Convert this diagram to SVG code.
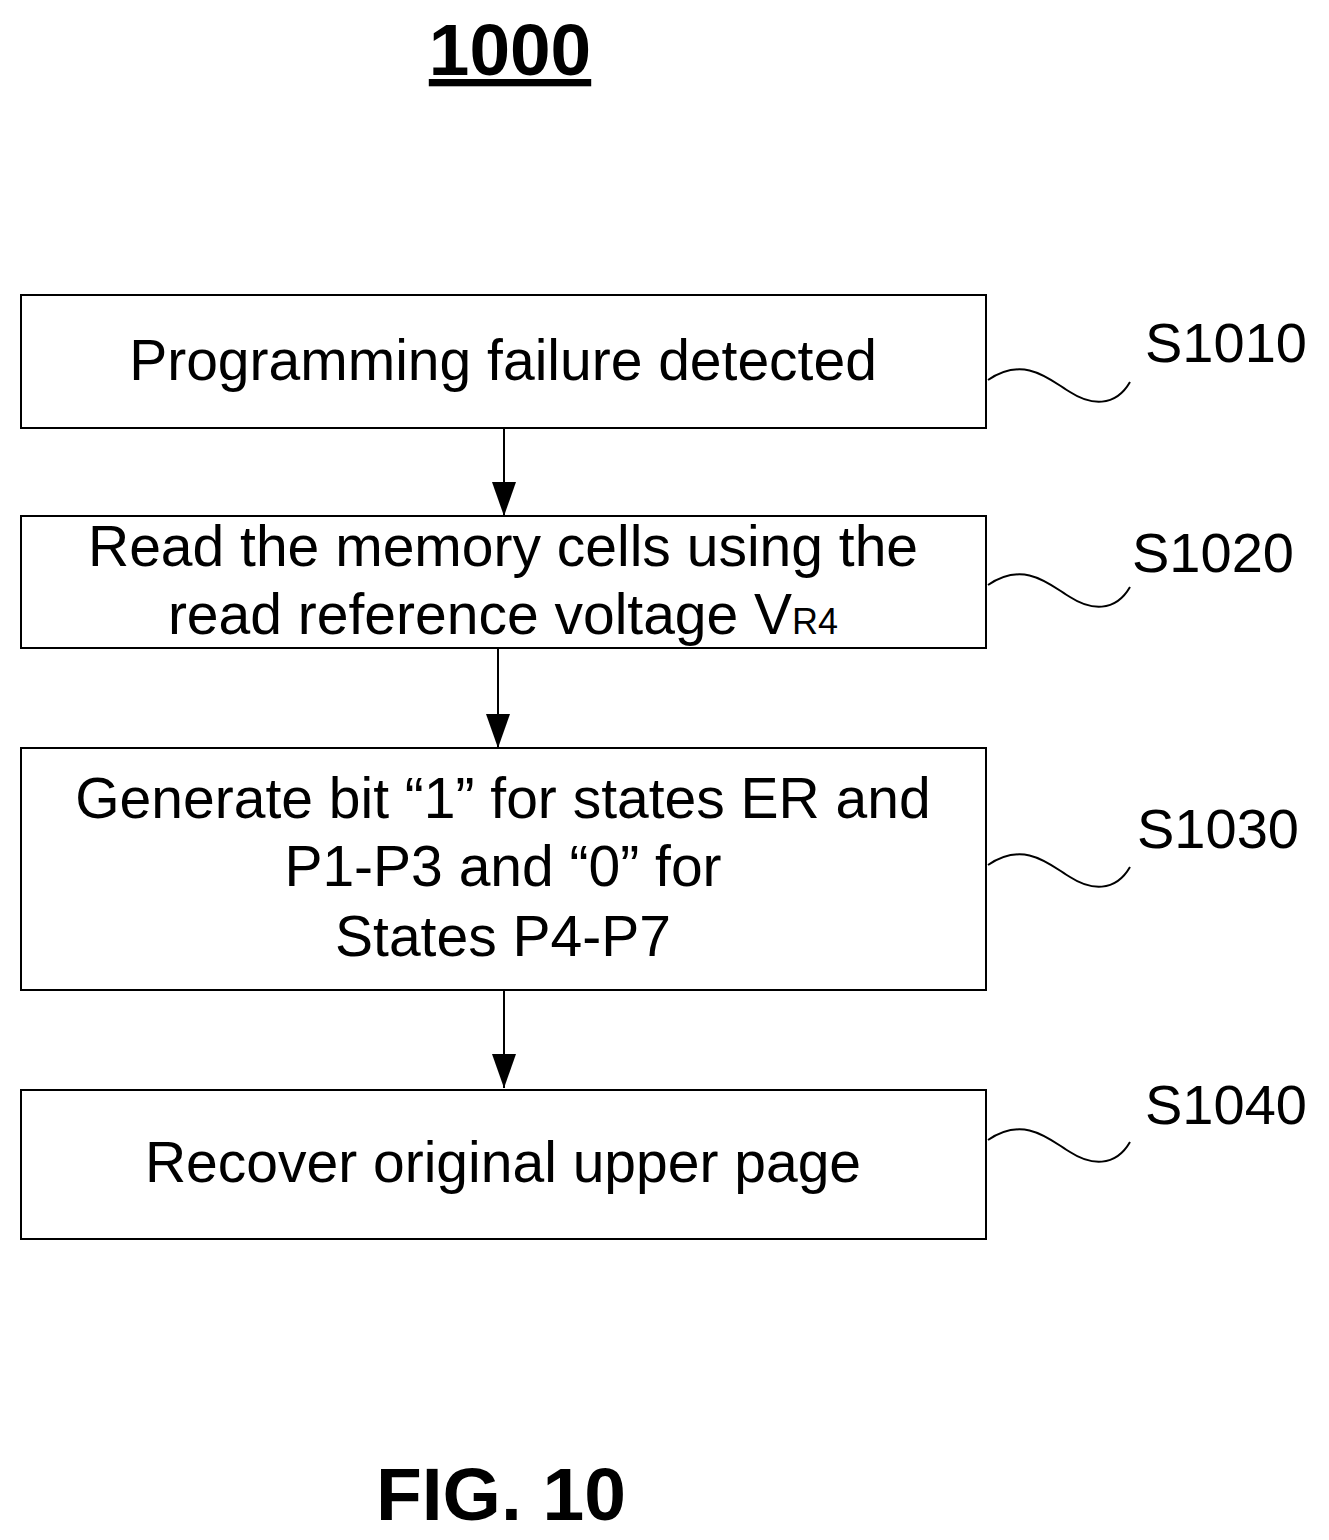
<svg xmlns="http://www.w3.org/2000/svg" width="1329" height="1540" viewBox="0 0 1329 1540">
<defs>
<marker id="a" viewBox="0 0 34 24" refX="34" refY="12" markerWidth="34" markerHeight="24" orient="auto" markerUnits="userSpaceOnUse"><path d="M0,0 L34,12 L0,24 z" fill="#000"/></marker>
</defs>
<style>
.box{fill:#fff;stroke:#000;stroke-width:2}
.t{font-family:"Liberation Sans",Arial,sans-serif;font-size:57px;fill:#000;text-anchor:middle}
.l{font-family:"Liberation Sans",Arial,sans-serif;font-size:56px;fill:#000}
.c{stroke:#000;stroke-width:2;fill:none}
</style>
<rect width="1329" height="1540" fill="#fff"/>
<g id="title"><text x="510" y="75" class="t" style="font-weight:bold;font-size:73px;text-decoration:underline">1000</text></g>
<g id="s1010"><rect class="box" x="21" y="295" width="965" height="133"/><text class="t" x="503" y="380">Programming failure detected</text>
<path class="c" d="M988,380 C1025,355 1050,380 1070,392 C1090,405 1115,408 1130,382"/><text class="l" x="1145" y="362">S1010</text></g>
<g id="s1020"><rect class="box" x="21" y="516" width="965" height="132"/><text class="t" x="503" y="566">Read the memory cells using the</text><text class="t" x="503" y="634">read reference voltage V<tspan style="font-size:36px">R4</tspan></text>
<path class="c" d="M988,585 C1025,560 1050,585 1070,597 C1090,610 1115,613 1130,587"/><text class="l" x="1132" y="572">S1020</text></g>
<g id="s1030"><rect class="box" x="21" y="748" width="965" height="242"/><text class="t" x="503" y="818">Generate bit “1” for states ER and</text><text class="t" x="503" y="886">P1-P3 and “0” for</text><text class="t" x="503" y="956">States P4-P7</text>
<path class="c" d="M988,865 C1025,840 1050,865 1070,877 C1090,890 1115,893 1130,867"/><text class="l" x="1137" y="848">S1030</text></g>
<g id="s1040"><rect class="box" x="21" y="1090" width="965" height="149"/><text class="t" x="503" y="1182">Recover original upper page</text>
<path class="c" d="M988,1140 C1025,1115 1050,1140 1070,1152 C1090,1165 1115,1168 1130,1142"/><text class="l" x="1145" y="1124">S1040</text></g>
<g id="connectors">
<line class="c" x1="504" y1="428" x2="504" y2="516" marker-end="url(#a)"/>
<line class="c" x1="498" y1="648" x2="498" y2="748" marker-end="url(#a)"/>
<line class="c" x1="504" y1="990" x2="504" y2="1088" marker-end="url(#a)"/>
</g>
<g id="fig"><text x="501" y="1520" class="t" style="font-weight:bold;font-size:75px">FIG. 10</text></g>
</svg>
